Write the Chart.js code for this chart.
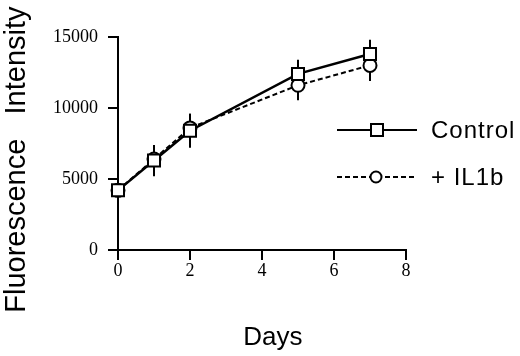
<!DOCTYPE html>
<html>
<head>
<meta charset="utf-8">
<script src="https://cdn.jsdelivr.net/npm/chart.js@4"></script>
<style>
  html, body { margin: 0; padding: 0; background: #fff; }
  #wrap { width: 520px; height: 356px; }
</style>
</head>
<body>
<div id="wrap"><canvas id="chart" width="520" height="356"></canvas></div>
<script>
// Data
const days = [0, 1, 2, 5, 7];
const controlValues = [4200, 6300, 8400, 12400, 13800];
const il1bValues = [4200, 6400, 8600, 11600, 13000];
const controlErrors = [200, 1100, 1200, 1000, 1000];
const il1bErrors = [200, 900, 1000, 1050, 1100];
const xTicks = [0, 2, 4, 6, 8];
const yTicks = [0, 5000, 10000, 15000];

const sansFont = '"Liberation Sans", Arial, Helvetica, sans-serif';
const serifFont = '"Liberation Serif", "Times New Roman", serif';

// Function to turn two arrays into {x, y} points
function toPoints(xs, ys) {
    return xs.map((x, i) => ({ x: x, y: ys[i] }));
}

// Error bars, drawn under the markers so the white fill hides the middle
const errorBarPlugin = {
    id: 'errorBars',
    beforeDatasetsDraw(chart) {
        const ctx = chart.ctx;
        const xScale = chart.scales.x;
        const yScale = chart.scales.y;
        const errs = [controlErrors, il1bErrors];
        ctx.save();
        ctx.strokeStyle = '#000';
        ctx.lineWidth = 2;
        chart.data.datasets.forEach((ds, d) => {
            ds.data.forEach((p, i) => {
                const px = xScale.getPixelForValue(p.x);
                ctx.beginPath();
                ctx.moveTo(px, yScale.getPixelForValue(p.y + errs[d][i]));
                ctx.lineTo(px, yScale.getPixelForValue(p.y - errs[d][i]));
                ctx.stroke();
            });
        });
        ctx.restore();
    }
};

// Legend on the right: line sample with marker, then the label
const sideLegendPlugin = {
    id: 'sideLegend',
    afterDraw(chart) {
        const ctx = chart.ctx;
        const rows = [
            { y: 130, ds: chart.data.datasets[0] },
            { y: 177, ds: chart.data.datasets[1] }
        ];
        ctx.save();
        rows.forEach(row => {
            ctx.strokeStyle = '#000';
            ctx.lineWidth = 2;
            ctx.setLineDash(row.ds.borderDash || []);
            ctx.beginPath();
            ctx.moveTo(337, row.y);
            ctx.lineTo(417, row.y);
            ctx.stroke();
            ctx.setLineDash([]);
            ctx.fillStyle = '#fff';
            ctx.beginPath();
            if (row.ds.pointStyle === 'rect') {
                ctx.rect(371, row.y - 6, 12, 12);
            } else {
                ctx.arc(376, row.y, 5.5, 0, Math.PI * 2);
            }
            ctx.fill();
            ctx.stroke();
            ctx.fillStyle = '#000';
            ctx.font = '24px ' + sansFont;
            ctx.letterSpacing = '1px';
            ctx.textBaseline = 'middle';
            ctx.textAlign = 'left';
            ctx.fillText(row.ds.label, 431, row.y + 1);
        });
        ctx.restore();
    }
};

const ctx = document.getElementById('chart').getContext('2d');
const chart = new Chart(ctx, {
    type: 'line',
    data: {
        datasets: [
            {
                label: 'Control',
                data: toPoints(days, controlValues),
                borderColor: '#000',
                borderWidth: 2.5,
                pointStyle: 'rect',
                pointRadius: 8.5,
                pointBorderWidth: 2,
                pointBackgroundColor: '#fff',
                pointBorderColor: '#000',
                tension: 0,
                clip: false
            },
            {
                label: '+ IL1b',
                data: toPoints(days, il1bValues),
                borderColor: '#000',
                borderWidth: 2,
                borderDash: [5, 3],
                pointStyle: 'circle',
                pointRadius: 6.5,
                pointBorderWidth: 2,
                pointBackgroundColor: '#fff',
                pointBorderColor: '#000',
                tension: 0,
                clip: false
            }
        ]
    },
    options: {
        responsive: false,
        animation: false,
        layout: { padding: { top: 37, right: 114, left: 0, bottom: 0 } },
        plugins: {
            legend: { display: false },
            tooltip: { enabled: false }
        },
        scales: {
            x: {
                type: 'linear',
                min: 0,
                max: 8,
                afterBuildTicks: s => { s.ticks = xTicks.map(v => ({ value: v })); },
                afterFit: s => { s.height = 106; },
                ticks: {
                    color: '#000',
                    font: { family: serifFont, size: 18 },
                    padding: 0,
                    maxRotation: 0,
                    callback: v => String(v)
                },
                grid: {
                    drawOnChartArea: false,
                    drawTicks: true,
                    tickLength: 10,
                    color: '#000',
                    lineWidth: 2
                },
                border: { display: true, color: '#000', width: 2 },
                title: {
                    display: true,
                    text: '   Days',
                    color: '#000',
                    font: { family: sansFont, size: 26 },
                    padding: { top: 0, bottom: 3 }
                }
            },
            y: {
                type: 'linear',
                min: 0,
                max: 15000,
                afterBuildTicks: s => { s.ticks = yTicks.map(v => ({ value: v })); },
                afterFit: s => { s.width = 118; },
                ticks: {
                    color: '#000',
                    font: { family: serifFont, size: 18 },
                    padding: 10,
                    callback: v => String(v)
                },
                grid: {
                    drawOnChartArea: false,
                    drawTicks: true,
                    tickLength: 10,
                    color: '#000',
                    lineWidth: 2
                },
                border: { display: true, color: '#000', width: 2 },
                title: {
                    display: true,
                    text: 'Fluorescence   Intensity    ',
                    color: '#000',
                    font: { family: sansFont, size: 29 },
                    padding: { top: 0, bottom: 0 }
                }
            }
        }
    },
    plugins: [errorBarPlugin, sideLegendPlugin]
});
</script>
</body>
</html>
